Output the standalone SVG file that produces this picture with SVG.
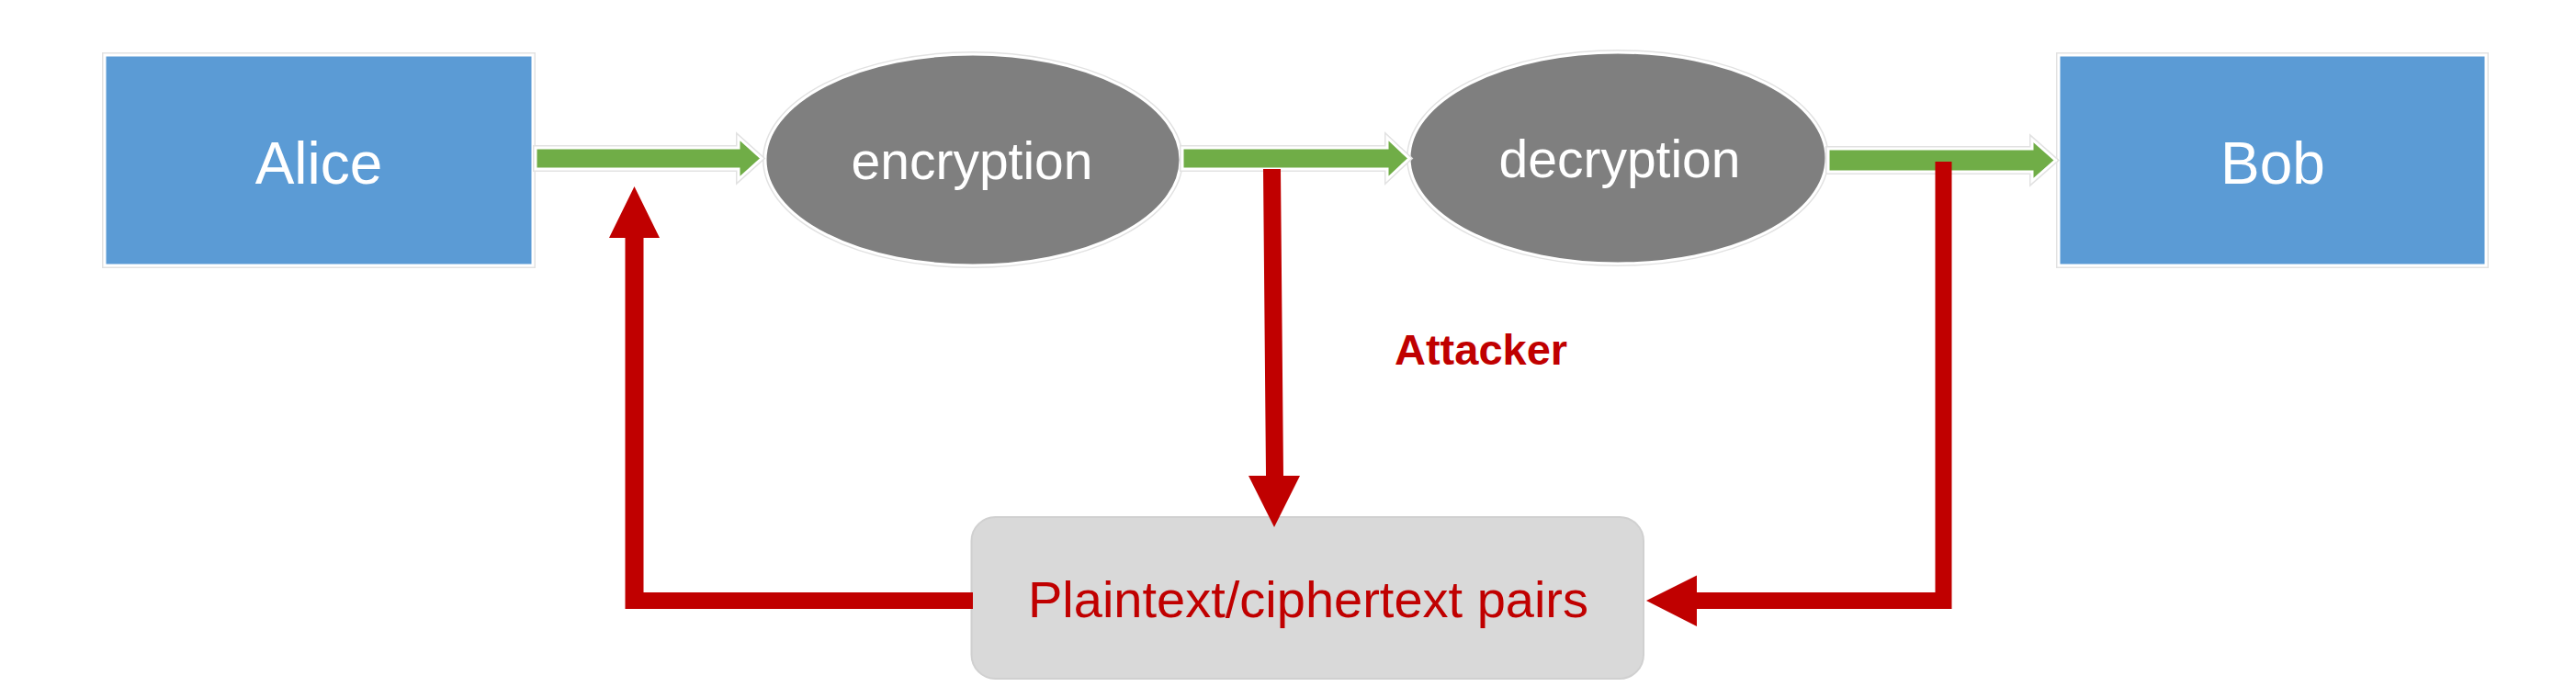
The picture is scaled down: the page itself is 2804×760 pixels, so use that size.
<svg xmlns="http://www.w3.org/2000/svg" width="2804" height="760" viewBox="0 0 2804 760">
<style>
.box{fill:#5B9BD5}
.ell{fill:#7F7F7F}
.halo{stroke:#E2E2E2;stroke-width:6;fill:none}
.ring{stroke:#FFFFFF;stroke-width:3}
.lbl{font-family:"Liberation Sans",Arial,sans-serif;fill:#FFFFFF;text-anchor:middle}
.green{fill:#70AD47}
.red{fill:#C00000}
.redtxt{font-family:"Liberation Sans",Arial,sans-serif;fill:#C00000}
</style>
<rect width="2804" height="760" fill="#FFFFFF"/>
<g id="alice">
  <rect class="halo" x="114" y="60" width="466" height="229"/>
  <rect class="box ring" x="114" y="60" width="466" height="229"/>
  <text class="lbl" x="347" y="200" font-size="64">Alice</text>
</g>
<g id="encryption">
  <ellipse class="halo" cx="1059" cy="174" rx="226" ry="115"/>
  <ellipse class="ell ring" cx="1059" cy="174" rx="226" ry="115"/>
  <text class="lbl" x="1058" y="195" font-size="57">encryption</text>
</g>
<g id="decryption">
  <ellipse class="halo" cx="1761" cy="172" rx="227" ry="115"/>
  <ellipse class="ell ring" cx="1761" cy="172" rx="227" ry="115"/>
  <text class="lbl" x="1763" y="193" font-size="57">decryption</text>
</g>
<g id="bob">
  <rect class="halo" x="2241" y="60" width="465" height="229"/>
  <rect class="box ring" x="2241" y="60" width="465" height="229"/>
  <text class="lbl" x="2474" y="200" font-size="64">Bob</text>
</g>
<g id="attacker">
  <text class="redtxt" x="1518" y="397" font-size="47" font-weight="bold">Attacker</text>
</g>
<g id="pairs">
  <rect x="1057.5" y="563" width="731.5" height="176" rx="26" fill="#D9D9D9" stroke="#D0D0D0" stroke-width="2"/>
  <text class="redtxt" x="1424" y="672" font-size="56" text-anchor="middle">Plaintext/ciphertext pairs</text>
</g>
<g id="connectors">
  <g id="green-arrows">
    <polygon class="halo" points="583,161 804,161 804,150 829,172.5 804,195 804,184 583,184"/>
    <polygon class="green ring" points="583,161 804,161 804,150 829,172.5 804,195 804,184 583,184"/>
    <polygon class="halo" points="1287,161 1510,161 1510,150 1534,172.5 1510,195 1510,184 1287,184"/>
    <polygon class="green ring" points="1287,161 1510,161 1510,150 1534,172.5 1510,195 1510,184 1287,184"/>
    <polygon class="halo" points="1990,162 2212,162 2212,152 2237.5,174.5 2212,197 2212,187 1990,187"/>
    <polygon class="green ring" points="1990,162 2212,162 2212,152 2237.5,174.5 2212,197 2212,187 1990,187"/>
  </g>
  <g id="red-arrows">
    <polygon class="red" points="1375,184 1394,184 1397,518 1415,518 1387,574 1359,518 1378,518"/>
    <polygon class="red" points="2106.5,176 2124.5,176 2124.5,663 1847,663 1847,682 1792,654 1847,626.5 1847,645 2106.5,645"/>
    <polygon class="red" points="1059,645 1059,663 680.5,663 680.5,259 663,259 690.5,203 718,259 700.5,259 700.5,645"/>
  </g>
</g>
</svg>
